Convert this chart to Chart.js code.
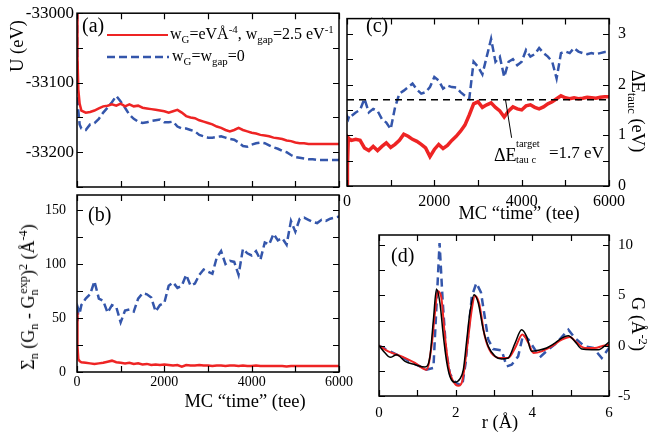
<!DOCTYPE html>
<html>
<head>
<meta charset="utf-8">
<script src="https://cdn.jsdelivr.net/npm/chart.js@4.4.0/dist/chart.umd.min.js"></script>
<style>
  body { margin: 0; background: #fff; }
  #fig { position: relative; width: 652px; height: 440px; overflow: hidden; font-family: 'Liberation Serif', 'Times New Roman', serif; color: #000; }
  #fig canvas { position: absolute; left: 0; top: 0; }
  .txt { position: absolute; white-space: nowrap; line-height: 1; }
  .txt sub, .txt sup { font-size: 0.68em; line-height: 0; }
  .txt sub { vertical-align: -0.35em; }
  .txt sup { vertical-align: 0.55em; }
  .txt sup.ov { margin-left: -0.36em; }
  .rotl { transform: translate(-50%, -50%) rotate(-90deg); }
  .rotr { transform: translate(-50%, -50%) rotate(90deg); }
  .ctr { transform: translate(-50%, -50%); }
</style>
</head>
<body>
<div id="fig">
  <canvas id="cA" width="652" height="440"></canvas>
  <canvas id="cB" width="652" height="440"></canvas>
  <canvas id="cC" width="652" height="440"></canvas>
  <canvas id="cD" width="652" height="440"></canvas>

  <div class="txt" style="left:82px;top:15px;font-size:20px">(a)</div>
  <div class="txt" style="left:88px;top:204px;font-size:20px">(b)</div>
  <div class="txt" style="left:366px;top:15px;font-size:20px">(c)</div>
  <div class="txt" style="left:391px;top:245px;font-size:20px">(d)</div>

  <svg style="position:absolute;left:107px;top:32px" width="61" height="6"><line x1="0" y1="3" x2="61" y2="3" stroke="#ee2424" stroke-width="2"/></svg>
  <div class="txt" style="left:170px;top:26px;font-size:16px">w<sub>G</sub>=eVÅ<sup>-4</sup>, w<sub>gap</sub>=2.5 eV<sup>-1</sup></div>
  <svg style="position:absolute;left:107px;top:54px" width="62" height="6"><line x1="0" y1="3" x2="62" y2="3" stroke="#3456ab" stroke-width="2.5" stroke-dasharray="8 4"/></svg>
  <div class="txt" style="left:172px;top:48px;font-size:16px">w<sub>G</sub>=w<sub>gap</sub>=0</div>

  <div class="txt rotl" style="left:17px;top:46px;font-size:18.5px">U (eV)</div>
  <div class="txt rotl" style="left:28px;top:297px;font-size:18px">Σ<sub>n</sub> (G<sub>n</sub> - G<sub>n</sub><sup class="ov">exp</sup>)<sup>2</sup> (Å<sup>-4</sup>)</div>
  <div class="txt ctr" style="left:245px;top:401px;font-size:18.5px">MC “time” (tee)</div>
  <div class="txt ctr" style="left:519px;top:213px;font-size:18.5px">MC “time” (tee)</div>
  <div class="txt ctr" style="left:500px;top:422px;font-size:18.5px">r (Å)</div>
  <div class="txt rotr" style="left:638px;top:111px;font-size:18.5px">ΔE<sub>tauc</sub> (eV)</div>
  <div class="txt rotr" style="left:638px;top:324px;font-size:18.5px">G (Å<sup>-2</sup>)</div>

  <div class="txt" style="left:494px;top:146px;font-size:18px">ΔE</div>
  <div class="txt" style="left:516px;top:139px;font-size:10.5px">target</div>
  <div class="txt" style="left:516px;top:155px;font-size:10.5px">tau c</div>
  <div class="txt" style="left:549px;top:144px;font-size:17px">=1.7 eV</div>
</div>

<script>
// MC time grid (tee), shared by panels a-c
const mcTime = [0, 10, 30, 60,
  100, 200, 300, 400, 500, 600, 700, 800, 900, 1000,
  1100, 1200, 1300, 1400, 1500, 1600, 1700, 1800, 1900, 2000,
  2100, 2200, 2300, 2400, 2500, 2600, 2700, 2800, 2900, 3000,
  3100, 3200, 3300, 3400, 3500, 3600, 3700, 3800, 3900, 4000,
  4100, 4200, 4300, 4400, 4500, 4600, 4700, 4800, 4900, 5000,
  5100, 5200, 5300, 5400, 5500, 5600, 5700, 5800, 5900, 6000];

// (a) total energy U (eV)
const uRed = [-33000, -33060, -33110, -33130,
  -33140, -33143, -33142, -33140, -33137, -33134, -33133, -33131, -33133, -33130,
  -33134, -33131, -33134, -33133, -33136, -33137, -33138, -33139, -33140, -33141,
  -33143, -33141, -33139, -33143, -33148, -33150, -33151, -33154, -33156, -33158,
  -33160, -33163, -33165, -33168, -33170, -33168, -33165, -33168, -33170, -33172,
  -33173, -33175, -33176, -33177, -33179, -33180, -33181, -33183, -33184, -33186,
  -33187, -33187, -33188, -33188, -33188, -33188, -33188, -33188, -33188, -33188];
const uBlue = [-33000, -33090, -33140, -33160,
  -33166, -33168, -33160, -33158, -33152, -33143, -33136, -33128, -33119, -33127,
  -33136, -33146, -33152, -33156, -33158, -33157, -33155, -33154, -33153, -33157,
  -33157, -33156, -33163, -33166, -33166, -33168, -33170, -33175, -33177, -33179,
  -33179, -33178, -33177, -33179, -33181, -33182, -33186, -33191, -33192, -33189,
  -33187, -33186, -33187, -33190, -33193, -33195, -33198, -33200, -33204, -33207,
  -33208, -33209, -33210, -33210, -33211, -33211, -33211, -33211, -33211, -33211];

// (b) sum of squared G deviations
const chiRed = [55, 24, 12, 10,
  9, 8.5, 8, 7.5, 8, 8.5, 9.5, 10.5, 9, 8.5,
  8, 8.5, 7.5, 8, 7, 7.5, 6.5, 7, 6.5, 7,
  6.5, 6, 6.5, 5, 6.5, 6, 6, 6.5, 6, 6,
  5.5, 6, 6, 5.5, 6, 6, 5.5, 6, 5.5, 5.5,
  6, 5.5, 5.5, 5.5, 5.5, 5.5, 5.5, 5, 5.5, 5.5,
  5.5, 5.5, 5.5, 5.5, 5.5, 5.5, 5.5, 5.5, 5.5, 5.5];
const chiBlue = [52, 47, 58, 54,
  62, 68, 72, 84, 68, 66, 55, 62, 60, 46,
  57, 58, 56, 68, 73, 72, 69, 56, 62, 64,
  80, 83, 78, 80, 90, 80, 82, 90, 95, 93,
  91, 106, 112, 100, 103, 102, 90, 114, 110, 108,
  112, 104, 120, 118, 128, 122, 124, 118, 140, 130,
  142, 143, 141, 139, 138, 141, 140, 142, 143, 144];

// (c) Tauc gap (eV)
const gapRed = [0, 0.4, 0.95, 0.92,
  0.9, 0.92, 0.9, 0.75, 0.7, 0.78, 0.7, 0.78, 0.85, 0.76,
  0.82, 0.9, 1.02, 0.98, 0.92, 0.88, 0.82, 0.75, 0.58, 0.72,
  0.82, 0.74, 0.8, 0.9, 0.98, 1.08, 1.2, 1.4, 1.62, 1.66,
  1.55, 1.6, 1.64, 1.55, 1.48, 1.36, 1.48, 1.56, 1.52, 1.5,
  1.58, 1.6, 1.55, 1.52, 1.56, 1.62, 1.66, 1.72, 1.78, 1.74,
  1.72, 1.74, 1.72, 1.73, 1.75, 1.74, 1.73, 1.75, 1.76, 1.76];
const gapBlue = [1.3, 1.36, 1.32, 1.4,
  1.38, 1.45, 1.5, 1.72, 1.45, 1.52, 1.48, 1.32, 1.25, 1.12,
  1.55, 1.82, 1.88, 1.95, 2.02, 1.9, 1.82, 1.85, 1.95, 2.15,
  2.08, 1.92, 1.98, 1.95, 1.94, 1.85, 1.78, 1.72, 2.45, 2.35,
  2.2, 2.55, 2.9, 2.45, 2.55, 2.15, 2.45, 2.5, 2.38, 2.45,
  2.68, 2.55, 2.6, 2.72, 2.62, 2.55, 2.45, 2.12, 2.62, 2.65,
  2.62, 2.72, 2.65, 2.62, 2.6, 2.62, 2.6, 2.62, 2.64, 2.64];
const targetTime = [0, 6000];
const targetGap = [1.7, 1.7];
const pointerTime = [3630, 3770];
const pointerGap = [1.7, 0.95];

// (d) reduced pair distribution G(r)
const rExp = [0, 0.16, 0.29, 0.46, 0.68, 0.94, 1.2, 1.33, 1.42, 1.5, 1.59, 1.68, 1.77, 1.85, 1.98,
  2.11, 2.2, 2.29, 2.37, 2.48, 2.59, 2.72, 2.85, 3.03, 3.2, 3.37, 3.55, 3.72, 3.85, 3.98,
  4.16, 4.37, 4.59, 4.77, 4.94, 5.11, 5.29, 5.55, 5.72, 6.0];
const gExp = [0, -0.73, -1.16, -0.9, -1.56, -1.89, -2.12, -1.06, 2.6, 5.63, 4.24, 0.93, -1.72, -3.05, -3.64,
  -3.3, -2.39, 0.6, 3.25, 5.07, 4.24, 1.59, -0.07, -1.06, -1.32, -1.22, 0.26, 1.59, 0.93, -0.56,
  -0.46, -0.23, 0.26, 0.76, 0.99, 0.43, -0.33, -0.4, -0.4, 0.35];
const rRed = [0, 0.24, 0.59, 0.94, 1.24, 1.37, 1.46, 1.53, 1.62, 1.72, 1.83, 1.94, 2.07, 2.17, 2.29,
  2.42, 2.5, 2.61, 2.76, 2.93, 3.2, 3.37, 3.55, 3.74, 3.9, 4.03, 4.24, 4.5, 4.77, 4.98,
  5.15, 5.37, 5.63, 5.85, 6.0];
const gRed = [0, -0.56, -1.06, -1.72, -2.39, -0.07, 3.25, 5.4, 4.9, 0.93, -2.39, -3.55, -3.98, -3.55, -0.4,
  3.58, 4.97, 4.24, 0.93, -0.73, -1.22, -1.22, -0.23, 1.1, 0.26, -0.73, -0.56, -0.07, 0.6, 0.86,
  0.33, -0.23, -0.23, 0, 0.1];
const rBlue = [0, 1.24, 1.42, 1.58, 1.66, 1.75, 1.85, 2.0, 2.17, 2.26, 2.42, 2.54, 2.66, 2.85, 2.98,
  3.2, 3.33, 3.46, 3.63, 3.76, 3.9, 4.07, 4.22, 4.41, 4.63, 4.94, 5.11, 5.37, 5.59, 5.81, 6.0];
const gBlue = [0, -2.39, -2.2, 10.2, 4.5, -0.5, -2.8, -3.7, -3.98, -1.72, 4.9, 6.23, 5.3, 0.6, -0.33,
  -0.46, -2.06, -1.89, -1.06, 1.1, 0.6, -0.4, -1.06, -0.4, 0.26, 1.59, 0.76, -0.07, -0.23, -1.22, -0.23];

const RED = '#ee2424';
const BLUE = '#3456ab';
const SERIF = 'Liberation Serif';

const pts = (xs, ys) => xs.map((x, i) => ({ x: x, y: ys[i] }));

// frame plus inward ticks on all four sides
const frameTicks = {
  id: 'frameTicks',
  afterDatasetsDraw(chart) {
    const { ctx, chartArea: a, scales } = chart;
    ctx.save();
    ctx.strokeStyle = '#000';
    ctx.lineWidth = 1.2;
    Object.values(scales).forEach(s => {
      s.ticks.forEach(t => {
        const p = Math.round(s.getPixelForValue(t.value)) + 0.5;
        ctx.beginPath();
        if (s.isHorizontal()) {
          ctx.moveTo(p, a.bottom); ctx.lineTo(p, a.bottom - 6);
          ctx.moveTo(p, a.top); ctx.lineTo(p, a.top + 6);
        } else {
          ctx.moveTo(a.left, p); ctx.lineTo(a.left + 6, p);
          ctx.moveTo(a.right, p); ctx.lineTo(a.right - 6, p);
        }
        ctx.stroke();
      });
    });
    ctx.lineWidth = 1.5;
    ctx.strokeRect(a.left, a.top, a.width, a.height);
    ctx.restore();
  }
};

function axis(o) {
  return {
    type: 'linear',
    position: o.position,
    min: o.min,
    max: o.max,
    grid: { display: false, drawTicks: false },
    border: { display: false },
    ticks: {
      display: o.every !== undefined,
      stepSize: o.step,
      includeBounds: false,
      autoSkip: false,
      maxRotation: 0,
      padding: o.pad,
      color: '#000',
      font: { family: SERIF, size: o.size },
      callback: v => {
        if (o.every === undefined) return '';
        const k = v / o.every;
        return Math.abs(k - Math.round(k)) < 1e-6 ? v : '';
      }
    },
    afterFit: s => {
      if (s.isHorizontal()) s.height = o.fit; else s.width = o.fit;
    }
  };
}

function line(data, color, width, dash, extra) {
  return Object.assign({
    data: data,
    borderColor: color,
    borderWidth: width,
    borderDash: dash || [],
    pointRadius: 0,
    fill: false,
    tension: 0
  }, extra || {});
}

function panel(id, datasets, padding, scales) {
  return new Chart(document.getElementById(id), {
    type: 'line',
    data: { datasets: datasets },
    options: {
      responsive: false,
      animation: false,
      events: [],
      layout: { autoPadding: false, padding: padding },
      plugins: { legend: { display: false }, tooltip: { enabled: false } },
      scales: scales
    },
    plugins: [frameTicks]
  });
}

// (a)
panel('cA', [
  line(pts(mcTime, uRed), RED, 2.5),
  line(pts(mcTime, uBlue), BLUE, 2.5, [8, 4])
], { left: 0, top: 9, right: 313, bottom: 0 }, {
  x: axis({ position: 'bottom', min: 0, max: 6000, step: 1000, fit: 253, pad: 2, size: 14 }),
  y: axis({ position: 'left', min: -33250, max: -33000, step: 50, every: 100, fit: 77, pad: 3, size: 17 })
});

// (b)
panel('cB', [
  line(pts(mcTime, chiRed), RED, 2.5),
  line(pts(mcTime, chiBlue), BLUE, 2.5, [8, 4])
], { left: 0, top: 195, right: 313, bottom: 0 }, {
  x: axis({ position: 'bottom', min: 0, max: 6000, step: 1000, every: 2000, fit: 68, pad: 2, size: 14 }),
  y: axis({ position: 'left', min: 0, max: 164, step: 25, every: 50, fit: 77, pad: 11, size: 14 })
});

// (c)
panel('cC', [
  line(pts(targetTime, targetGap), '#000', 1.5, [7, 5]),
  line(pts(pointerTime, pointerGap), '#000', 1),
  line(pts(mcTime, gapRed), RED, 3.5),
  line(pts(mcTime, gapBlue), BLUE, 2.5, [8, 4])
], { left: 347, top: 8, right: 0, bottom: 0 }, {
  x: axis({ position: 'bottom', min: 0, max: 6000, step: 1000, every: 2000, fit: 254, pad: 6, size: 16 }),
  y: axis({ position: 'right', min: 0, max: 3.3, step: 0.5, every: 1, fit: 43, pad: 9, size: 16 })
});

// (d)
panel('cD', [
  line(pts(rExp, gExp), '#000', 1.5, null, { cubicInterpolationMode: 'monotone' }),
  line(pts(rRed, gRed), RED, 2, null, { cubicInterpolationMode: 'monotone' }),
  line(pts(rBlue, gBlue), BLUE, 2.5, [8, 5])
], { left: 379, top: 235, right: 0, bottom: 0 }, {
  x: axis({ position: 'bottom', min: 0, max: 6, step: 1, every: 2, fit: 44, pad: 8, size: 15 }),
  y: axis({ position: 'right', min: -5, max: 11, step: 2.5, every: 5, fit: 43, pad: 9, size: 15 })
});
</script>
</body>
</html>
